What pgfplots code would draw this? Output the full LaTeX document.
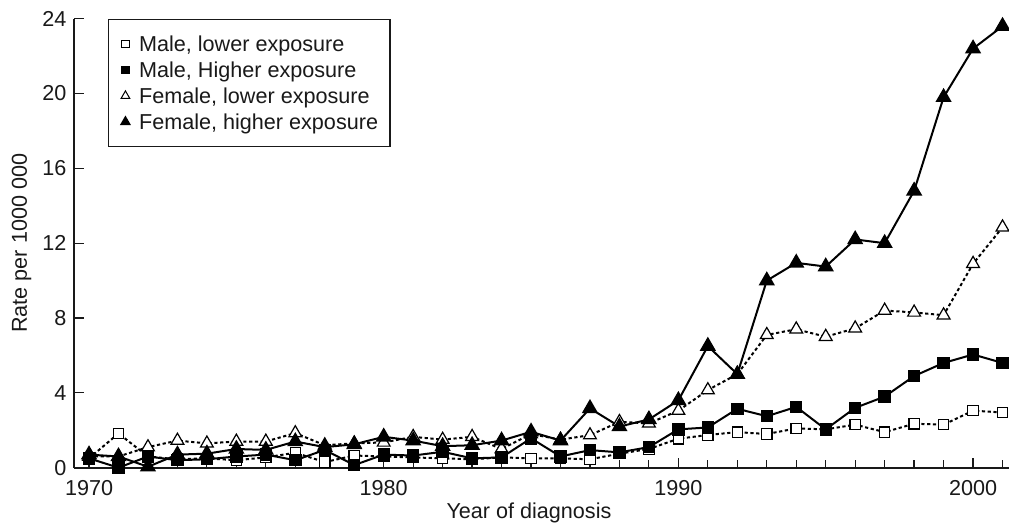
\documentclass[border=0pt]{standalone}
\usepackage{fontspec}
\setmainfont{Liberation Sans}
\usepackage{pgfplots}
\usepackage{pgfplotstable}
\pgfplotsset{compat=1.18}
\usetikzlibrary{calc}

\pgfplotstableread{
year ml   mh   fl    fh
1970 0.50 0.50 0.60  0.70
1971 1.83 0.00 0.60  0.60
1972 0.60 0.60 1.10  0.05
1973 0.45 0.40 1.45  0.70
1974 0.50 0.45 1.30  0.75
1975 0.40 0.60 1.40  1.00
1976 0.55 0.70 1.40  0.95
1977 0.80 0.40 1.85  1.40
1978 0.30 0.95 1.20  1.10
1979 0.65 0.14 1.30  1.25
1980 0.60 0.70 1.35  1.65
1981 0.55 0.65 1.65  1.45
1982 0.50 0.85 1.50  1.15
1983 0.45 0.50 1.65  1.20
1984 0.55 0.55 1.00  1.45
1985 0.50 1.57 1.80  1.92
1986 0.50 0.60 1.50  1.45
1987 0.45 0.94 1.74  3.17
1988 0.75 0.82 2.45  2.20
1989 1.00 1.10 2.37  2.58
1990 1.55 2.05 3.05  3.60
1991 1.75 2.15 4.15  6.50
1992 1.90 3.15 5.00  5.00
1993 1.80 2.75 7.10  10.00
1994 2.10 3.25 7.40  10.95
1995 2.05 2.05 7.00  10.75
1996 2.30 3.20 7.45  12.20
1997 1.90 3.80 8.40  12.00
1998 2.35 4.90 8.30  14.80
1999 2.30 5.60 8.15  19.80
2000 3.05 6.05 10.90 22.40
2001 2.95 5.60 12.85 23.60
}\data

\begin{document}
\fontsize{10.8bp}{13bp}\selectfont
\begin{tikzpicture}
\begin{axis}[
  scale only axis, width=467.5bp, height=224.5bp,
  xmin=1969.49, xmax=2001.22, ymin=0, ymax=24,
  axis x line=bottom, axis y line=left,
  axis line style={-, line width=0.9bp, black!90},
  xtick={1970,1980,1990,2000},
  minor xtick={1970,...,2001},
  ytick={0,4,...,24},
  tick align=inside,
  major tick length=5bp, minor tick length=4bp,
  every tick/.style={black!90, line width=0.6bp},
  /pgf/number format/assume math mode=true,
  /pgf/number format/set thousands separator={},
  tick label style={font=\fontsize{10.8bp}{13bp}\selectfont, text=black!90},
  xticklabel style={yshift=-2.4bp},
  label style={font=\fontsize{10.8bp}{13bp}\selectfont, text=black!90},
  xlabel={Year of diagnosis},
  ylabel={Rate per 1000 000},
  xlabel style={at={(axis description cs:0.4866,0)}, anchor=base, yshift=-25.2bp},
  ylabel style={at={(axis description cs:0,0.5)}, anchor=base, yshift=23.5bp},
  legend style={at={(axis description cs:0.0364,1)}, anchor=north west,
    draw=black!90, line width=0.7bp, inner xsep=2.4bp, inner ysep=8.3bp,
    row sep=5.1bp, font=\fontsize{10.8bp}{13bp}\selectfont, text=black!90,
    nodes={inner ysep=0pt, inner xsep=3.6bp, text height=7.9bp, text depth=0pt}},
  legend cell align=left,
  legend image code/.code={\draw[#1] plot coordinates {(0bp,0bp)}; \path (-5.6bp,0) (2.9bp,0);},
]
\coordinate (O) at (rel axis cs:0,0);
\coordinate (T) at (rel axis cs:1,1);

\addlegendimage{only marks, mark=square*, mark size=1.8bp, mark options={fill=white, draw=black, line width=0.5bp}}
\addlegendentry{Male, lower exposure}
\addlegendimage{only marks, mark=square*, mark size=1.8bp, mark options={fill=black, draw=black}}
\addlegendentry{Male, Higher exposure}
\addlegendimage{only marks, mark=triangle*, mark size=2.5bp, mark options={fill=white, draw=black, line width=0.5bp}}
\addlegendentry{Female, lower exposure}
\addlegendimage{only marks, mark=triangle*, mark size=2.5bp, mark options={fill=black, draw=black}}
\addlegendentry{Female, higher exposure}

\addplot[forget plot, black, line width=1bp, dash pattern=on 1.6bp off 1.3bp,
  mark=square*, mark size=2.6bp, mark options={solid, fill=white, line width=0.6bp}]
  table[x=year, y=ml] {\data};
\addplot[forget plot, black, line width=1bp, dash pattern=on 1.6bp off 1.3bp,
  mark=triangle*, mark size=3.7bp, mark options={solid, fill=white, line width=0.6bp}]
  table[x=year, y=fl] {\data};
\addplot[forget plot, black, line width=1bp,
  mark=square*, mark size=2.6bp, mark options={solid, fill=black}]
  table[x=year, y=mh] {\data};
\addplot[forget plot, black, line width=1bp,
  mark=triangle*, mark size=3.7bp, mark options={solid, fill=black}]
  table[x=year, y=fh] {\data};
\end{axis}
\pgfresetboundingbox
\path[use as bounding box] ($(O)+(-37bp,-31.15bp)$) rectangle ($(T)+(0,9.35bp)$);
\end{tikzpicture}
\end{document}
